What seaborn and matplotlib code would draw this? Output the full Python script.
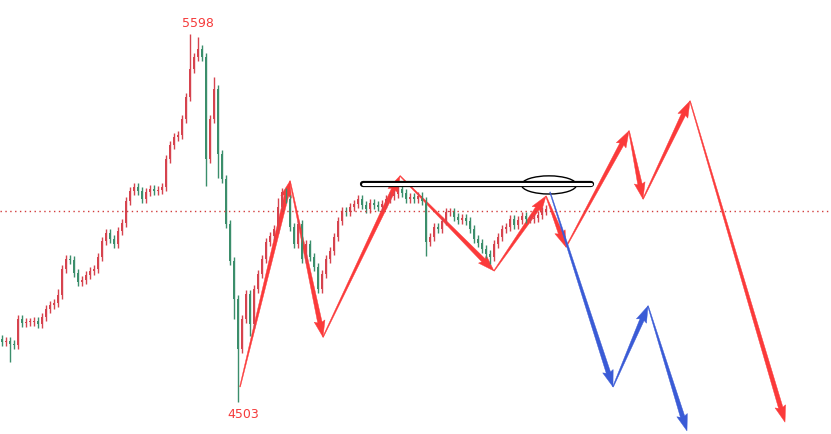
import numpy as np
import matplotlib
matplotlib.use("Agg")
import matplotlib.pyplot as plt
import seaborn as sns
import pandas as pd
from matplotlib.patches import Ellipse, Polygon

# closing prices, one per bar
closes = [4682, 4685, 4676, 4673, 4750, 4738, 4741, 4741, 4744, 4735,
          4756, 4780, 4792, 4798, 4821, 4899, 4929, 4926, 4887, 4860,
          4866, 4881, 4893, 4899, 4935, 4982, 5006, 4988, 4973, 5012,
          5036, 5101, 5131, 5143, 5131, 5107, 5128, 5137, 5131, 5134,
          5143, 5226, 5268, 5292, 5298, 5345, 5411, 5494, 5530, 5554,
          5530, 5226, 5345, 5435, 5241, 5167, 5033, 4923, 4810, 4661,
          4750, 4824, 4735, 4839, 4884, 4929, 4979, 4997, 5018, 5083,
          5128, 5107, 5024, 4973, 5033, 4929, 4973, 4935, 4905, 4839,
          4884, 4929, 4952, 4994, 5042, 5071, 5068, 5083, 5092, 5107,
          5089, 5077, 5095, 5089, 5083, 5092, 5107, 5116, 5122, 5137,
          5125, 5107, 5113, 5107, 5116, 5101, 4979, 4994, 5024, 5018,
          5042, 5068, 5068, 5054, 5045, 5051, 5042, 5018, 4988, 4976,
          4958, 4943, 4935, 4973, 4994, 5018, 5024, 5048, 5030, 5045,
          5057, 5048, 5048, 5051, 5060, 5071, 5077]
first_open = 4690

# notable wicks: bar index -> price
spike_highs = {47: 5598, 49: 5590, 14: 4840, 53: 5470, 69: 5110, 99: 5160}
spike_lows = {2: 4622, 51: 5146, 59: 4503, 62: 4699, 106: 4938, 58: 4750,
              54: 5170, 122: 4915}

last_price = 5071
resist_level = 5152
resist_x = [90.25, 147.25]

# projected paths (bar position, price)
hist_x = [59.5, 72, 80.25, 99.5, 123, 136]
hist_p = [4548, 5161, 4696, 5176, 4893, 5116]
red_x = [136, 141, 156.75, 160.25, 172, 195.75]
red_p = [5116, 4964, 5310, 5107, 5399, 4443]
blue_x = [137, 152.75, 161.5, 171.25]
blue_p = [5128, 4548, 4789, 4417]

up_col = "#d6434e"
dn_col = "#3b8e6b"
arrow_red = "#fb3a3a"
arrow_blue = "#3a5bd6"

sns.set_theme(style="white")

fig = plt.figure(figsize=(8.31, 4.35), dpi=100)
ax = fig.add_axes([0, 0, 1, 1])
ax.set_xlim(-0.5, 207.25)
ax.set_ylim(4407.8, 5702.3)

n = len(closes)
idx = np.arange(n)
opens = [first_open] + closes[:-1]
df = pd.DataFrame({"x": idx, "open": opens, "close": closes})
df["top"] = df[["open", "close"]].max(axis=1)
df["bot"] = df[["open", "close"]].min(axis=1)
df["high"] = [spike_highs.get(i, t + 11) for i, t in zip(idx, df["top"])]
df["low"] = [spike_lows.get(i, b - 11) for i, b in zip(idx, df["bot"])]
df["col"] = np.where(df["close"] >= df["open"], up_col, dn_col)

ax.vlines(df["x"], df["low"], df["high"], colors=df["col"], lw=1)
ax.bar(df["x"], np.maximum(df["top"] - df["bot"], 3), bottom=df["bot"],
       width=0.65, color=df["col"], linewidth=0)

ax.axhline(last_price, color="#d23c3c", ls=(0, (1, 2.5)), lw=1)

# resistance bar
res = pd.DataFrame({"x": resist_x, "y": [resist_level] * 2})
sns.lineplot(data=res, x="x", y="y", ax=ax, color="black", lw=4.5)
sns.lineplot(data=res, x="x", y="y", ax=ax, color="white", lw=2.2)
ax.add_patch(Ellipse((136.75, 5149), 13.75, 54, fill=False,
                     edgecolor="black", lw=1))


def taper_arrow(x0, p0, x1, p1, color, head_w=11, head_l=15, shaft_w=4.5):
    # tapered arrow: thin at the start, widening towards the head
    T = ax.transData
    s = T.transform((x0, p0))
    e = T.transform((x1, p1))
    d = e - s
    u = d / np.hypot(*d)
    nrm = np.array([-u[1], u[0]])
    base = e - u * head_l
    notch = e - u * head_l * 1.1
    pts = [s + nrm * 0.4, base + nrm * shaft_w / 2, notch + nrm * head_w / 2, e,
           notch - nrm * head_w / 2, base - nrm * shaft_w / 2, s - nrm * 0.4]
    ax.add_patch(Polygon(T.inverted().transform(pts), closed=True,
                         facecolor=color, edgecolor=color, lw=0.3))


def arrows(xs, ps, color):
    for i in range(len(xs) - 1):
        taper_arrow(xs[i], ps[i], xs[i + 1], ps[i + 1], color)


arrows(hist_x, hist_p, arrow_red)
arrows(red_x, red_p, arrow_red)
arrows(blue_x, blue_p, arrow_blue)

ax.text(49, 5633, "5598", color="#f53b3b", fontsize=9, ha="center", va="center")
ax.text(60.25, 4470, "4503", color="#f53b3b", fontsize=9, ha="center", va="center")

ax.set_xlabel("")
ax.set_ylabel("")
ax.axis("off")

fig.savefig("out.png", dpi=100)
